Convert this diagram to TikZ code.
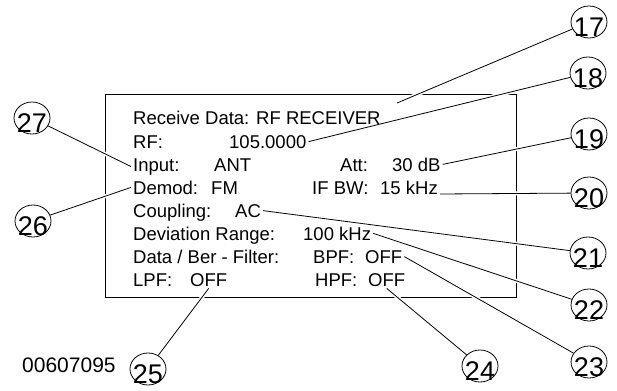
\documentclass[tikz,border=0pt]{standalone}
\usepackage{fontspec}
\setmainfont{Liberation Sans}
\usetikzlibrary{shapes.geometric, backgrounds}

\tikzset{
  lbl/.style={anchor=base west, inner sep=2pt, font=\fontsize{18.5}{22}\selectfont},
  callout/.style={ellipse, draw, line width=0.8pt, minimum width=36pt, minimum height=32pt, inner sep=0pt},
  num/.style={inner sep=0pt, yshift=-5.5pt, font=\fontsize{27}{27}\selectfont},
  leader/.style={line width=0.8pt},
  halo/.style={draw=white, line width=4pt}
}

\begin{document}
\begin{tikzpicture}[x=1pt, y=-1pt]
    \useasboundingbox (0,0) rectangle (617,390);

    % Display frame
    \begin{scope}[on background layer]
        \draw[line width=1pt] (105,95) rectangle (516,297);
    \end{scope}

    % Screen text
    \node[lbl] (rx) at (131,125) {Receive Data: RF RECEIVER};
    \node[lbl] (rf) at (131,148) {RF:};
    \node[lbl] (rfval) at (227,148) {105.0000};
    \node[lbl] (input) at (131,171) {Input:};
    \node[lbl] (inputval) at (212,171) {ANT};
    \node[lbl] (att) at (338,171) {Att:};
    \node[lbl] (attval) at (390,171) {30 dB};
    \node[lbl] (demod) at (131,194) {Demod:};
    \node[lbl] (demodval) at (209,194) {FM};
    \node[lbl] (ifbw) at (310,194) {IF BW:};
    \node[lbl] (ifbwval) at (378,194) {15 kHz};
    \node[lbl] (coup) at (131,217) {Coupling:};
    \node[lbl] (coupval) at (233,217) {AC};
    \node[lbl] (dev) at (131,240) {Deviation Range:};
    \node[lbl] (devval) at (301,240) {100 kHz};
    \node[lbl] (filt) at (131,263) {Data / Ber - Filter:};
    \node[lbl] (bpf) at (311,263) {BPF:};
    \node[lbl] (bpfval) at (363,263) {OFF};
    \node[lbl] (lpf) at (131,286) {LPF:};
    \node[lbl] (lpfval) at (188,286) {OFF};
    \node[lbl] (hpf) at (313,286) {HPF:};
    \node[lbl] (hpfval) at (366,286) {OFF};
    \coordinate (rxtop) at (397,103);

    % Reference numbers
    \foreach \n/\x/\y in {17/589/22, 18/588/73, 19/589/134, 20/589/193, 21/588/253,
                          22/589/305, 23/589/362, 24/480/366, 25/148/369, 26/33/221, 27/32/118}
        \node[callout, label={[num]center:\n}] (c\n) at (\x,\y) {};

    \node[anchor=base west, inner sep=0pt, font=\fontsize{21}{21}\selectfont] (docid) at (22,372) {00607095};

    % Leader lines
    \foreach \a/\b in {rxtop/c17, rfval.east/c18, attval.east/c19, ifbwval.base east/c20,
                       coupval.east/c21, devval.east/c22, bpfval.east/c23, hpfval.south/c24,
                       lpfval.south/c25, demod.west/c26, input.west/c27} {
        \begin{scope}[on background layer]
            \draw[halo] (\a) -- (\b);
        \end{scope}
        \draw[leader] (\a) -- (\b);
    }
\end{tikzpicture}
\end{document}
